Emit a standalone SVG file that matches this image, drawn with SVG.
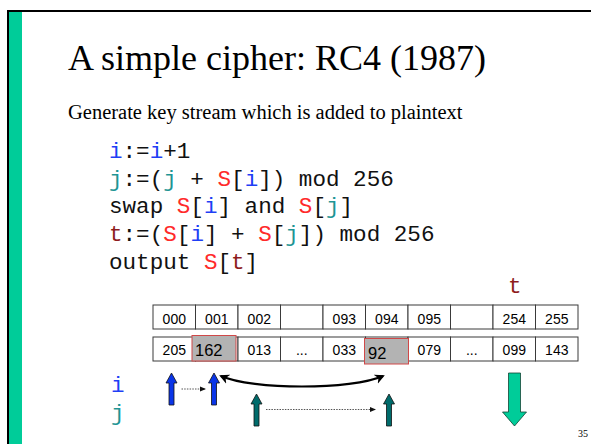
<svg xmlns="http://www.w3.org/2000/svg" width="591" height="444" viewBox="0 0 591 444">
<style>
.title{font-family:"Liberation Serif",serif;font-size:36px;fill:#000}
.sub{font-family:"Liberation Serif",serif;font-size:20.5px;fill:#000}
.code{font-family:"Liberation Mono",monospace;font-size:22.6px;fill:#111}
.ci{fill:#1f3ff5}.cj{fill:#1f9595}.cS{fill:#ff2a2a}.ct{fill:#8e1c1c}
.cell{fill:#fff;stroke:#3a3a3a;stroke-width:1}
.num{font-family:"Liberation Sans",Arial,sans-serif;font-size:14px;fill:#000;text-anchor:middle}
.big{font-family:"Liberation Sans",Arial,sans-serif;font-size:16.5px;fill:#000}
.hl{fill:#b3b3b3;stroke:#d04848;stroke-width:1}
.dot{stroke:#555;stroke-width:1;stroke-dasharray:1.5 1.2;fill:none}
.pn{font-family:"Liberation Serif",serif;font-size:10px;fill:#000}
</style>
<defs>
<marker id="sm" viewBox="0 0 6 6" refX="5" refY="3" markerWidth="6" markerHeight="6" markerUnits="userSpaceOnUse" orient="auto"><path d="M0,0.5 L6,3 L0,5.5 z" fill="#111"/></marker>
<marker id="bh" viewBox="0 0 10 10" refX="8" refY="5" markerWidth="10" markerHeight="10" markerUnits="userSpaceOnUse" orient="auto-start-reverse"><path d="M0,0 L10,5 L0,10 L3,5 z" fill="#000"/></marker>
</defs>
<rect width="591" height="444" fill="#fff"/>
<g id="frame">
<rect x="9" y="11" width="13" height="433" fill="#00cc99"/>
<line x1="8" y1="10" x2="8" y2="444" stroke="#000" stroke-width="2"/>
<line x1="7" y1="11" x2="591" y2="11" stroke="#000" stroke-width="2"/>
</g>
<g id="title"><text class="title" x="68" y="70">A simple cipher: RC4 (1987)</text></g>
<g id="subtitle"><text class="sub" x="68" y="119">Generate key stream which is added to plaintext</text></g>
<g id="code">
<text class="code" x="109" y="158"><tspan class="ci">i</tspan>:=<tspan class="ci">i</tspan>+1</text>
<text class="code" x="109" y="186"><tspan class="cj">j</tspan>:=(<tspan class="cj">j</tspan> + <tspan class="cS">S</tspan>[<tspan class="ci">i</tspan>]) mod 256</text>
<text class="code" x="109" y="213">swap <tspan class="cS">S</tspan>[<tspan class="ci">i</tspan>] and <tspan class="cS">S</tspan>[<tspan class="cj">j</tspan>]</text>
<text class="code" x="109" y="241"><tspan class="ct">t</tspan>:=(<tspan class="cS">S</tspan>[<tspan class="ci">i</tspan>] + <tspan class="cS">S</tspan>[<tspan class="cj">j</tspan>]) mod 256</text>
<text class="code" x="109" y="269">output <tspan class="cS">S</tspan>[<tspan class="ct">t</tspan>]</text>
</g>
<g id="label-t"><text class="code ct" x="508" y="293">t</text></g>
<g id="label-i"><text class="code ci" x="111" y="392">i</text></g>
<g id="label-j"><text class="code cj" x="111" y="420">j</text></g>
<g id="index-row">
<rect class="cell" x="153" y="305" width="42.5" height="24"/>
<rect class="cell" x="195.5" y="305" width="42.5" height="24"/>
<rect class="cell" x="238" y="305" width="42.5" height="24"/>
<rect class="cell" x="280.5" y="305" width="42.5" height="24"/>
<rect class="cell" x="323" y="305" width="42.5" height="24"/>
<rect class="cell" x="365.5" y="305" width="42.5" height="24"/>
<rect class="cell" x="408" y="305" width="42.5" height="24"/>
<rect class="cell" x="450.5" y="305" width="42.5" height="24"/>
<rect class="cell" x="493" y="305" width="42.5" height="24"/>
<rect class="cell" x="535.5" y="305" width="42.5" height="24"/>
<text class="num" x="174.3" y="324">000</text>
<text class="num" x="216.8" y="324">001</text>
<text class="num" x="259.3" y="324">002</text>
<text class="num" x="344.3" y="324">093</text>
<text class="num" x="386.8" y="324">094</text>
<text class="num" x="429.3" y="324">095</text>
<text class="num" x="514.3" y="324">254</text>
<text class="num" x="556.8" y="324">255</text>
</g>
<g id="value-row">
<rect class="cell" x="153" y="337" width="42.5" height="24" stroke="#555"/>
<rect class="cell" x="195.5" y="337" width="42.5" height="24"/>
<rect class="cell" x="238" y="337" width="42.5" height="24"/>
<rect class="cell" x="280.5" y="337" width="42.5" height="24"/>
<rect class="cell" x="323" y="337" width="42.5" height="24"/>
<rect class="cell" x="365.5" y="337" width="42.5" height="24"/>
<rect class="cell" x="408" y="337" width="42.5" height="24"/>
<rect class="cell" x="450.5" y="337" width="42.5" height="24"/>
<rect class="cell" x="493" y="337" width="42.5" height="24"/>
<rect class="cell" x="535.5" y="337" width="42.5" height="24"/>
<text class="num" x="174.3" y="355">205</text>
<text class="num" x="259.3" y="355">013</text>
<text class="num" x="301.8" y="355" font-size="11">...</text>
<text class="num" x="344.3" y="355">033</text>
<text class="num" x="429.3" y="355">079</text>
<text class="num" x="471.8" y="355" font-size="11">...</text>
<text class="num" x="514.3" y="355">099</text>
<text class="num" x="556.8" y="355">143</text>
</g>
<g id="cell-162">
<rect class="hl" x="192" y="335.5" width="44" height="25.5"/>
<text class="big" x="195" y="356">162</text>
</g>
<g id="cell-92">
<rect class="hl" x="364.5" y="338.5" width="44" height="25.5"/>
<text class="big" x="368" y="358.5">92</text>
</g>
<g id="connectors">
<polygon points="171.5,373 177,383 174,383 174,405 169,405 169,383 166,383" fill="#0a35e8" stroke="#111" stroke-width="0.8"/>
<polygon points="214,373 219.5,383 216.5,383 216.5,405 211.5,405 211.5,383 208.5,383" fill="#0a35e8" stroke="#111" stroke-width="0.8"/>
<line class="dot" x1="181.5" y1="389" x2="205" y2="389" marker-end="url(#sm)"/>
<path d="M221,376 C252,390 352,390 383,376" fill="none" stroke="#000" stroke-width="2.2" marker-start="url(#bh)" marker-end="url(#bh)"/>
<polygon points="256.5,394 262,404 259,404 259,426 254,426 254,404 251,404" fill="#006b6b" stroke="#111" stroke-width="0.8"/>
<polygon points="389,394 394.5,404 391.5,404 391.5,426 386.5,426 386.5,404 383.5,404" fill="#006b6b" stroke="#111" stroke-width="0.8"/>
<line class="dot" x1="266" y1="409.5" x2="375" y2="409.5" marker-end="url(#sm)"/>
<polygon points="508.5,373 520.5,373 520.5,412 526.5,412 514.5,426 502.5,412 508.5,412" fill="#00cc99" stroke="#114433" stroke-width="0.8"/>
</g>
<g id="page"><text class="pn" x="578" y="437">35</text></g>
</svg>
